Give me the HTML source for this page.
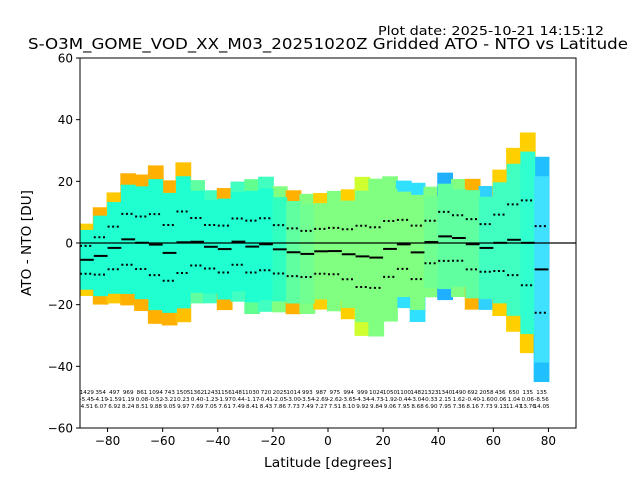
<!DOCTYPE html>
<html><head><meta charset="utf-8"><style>
body{margin:0;background:#fff}
svg{display:block;font-family:"DejaVu Sans","Liberation Sans",sans-serif}
</style></head><body>
<svg id="chart" width="640" height="480">
<text x="378" y="35" font-size="12" textLength="226" lengthAdjust="spacingAndGlyphs">Plot date: 2025-10-21 14:15:12</text>
<text x="28" y="49" font-size="15.5" textLength="600" lengthAdjust="spacingAndGlyphs">S-O3M_GOME_VOD_XX_M03_20251020Z Gridded ATO - NTO vs Latitude</text>
<text x="264" y="467" font-size="13" textLength="128" lengthAdjust="spacingAndGlyphs">Latitude [degrees]</text>
<text x="31" y="243" font-size="13" text-anchor="middle" textLength="106" lengthAdjust="spacingAndGlyphs" transform="rotate(-90 31 243)">ATO - NTO [DU]</text>
</svg>
<script>
const binStarts=[-90,-85,-80,-75,-70,-65,-60,-55,-50,-45,-40,-35,-30,-25,-20,-15,-10,-5,0,5,10,15,20,25,30,35,40,45,50,55,60,65,70,75];
const counts=[1429,354,497,969,861,1094,743,1505,1362,1243,1156,1481,1030,720,2025,1014,993,987,975,994,999,1024,1050,1100,1482,1323,1340,1490,692,2058,436,650,135,135];
const means=[-5.45,-4.19,-1.59,1.19,0.08,-0.52,-3.21,0.23,0.40,-1.23,-1.97,0.44,-1.17,-0.41,-2.05,-3.00,-3.54,-2.69,-2.62,-3.65,-4.34,-4.73,-1.92,-0.44,-3.04,0.33,2.15,1.62,-0.40,-1.60,0.06,1.04,0.06,-8.56];
const stds=[4.51,6.07,6.92,8.24,8.51,9.88,9.05,9.97,7.69,7.05,7.61,7.49,8.41,8.43,7.86,7.73,7.49,7.27,7.51,8.10,9.92,9.84,9.06,7.95,8.68,6.90,7.95,7.36,8.16,7.73,9.13,11.47,13.76,14.05];
const outerColors=["#ffd000","#ffb000","#ffc800","#ffb000","#ffb000","#ffb000","#ffb000","#ffc000","#60ffa0","#40ffc0","#ffb000","#40ffc0","#60ff90","#40ffc0","#80ff80","#ffb000","#80ff80","#ffd000","#80ff80","#ffd000","#d0ff30","#80ff80","#80ff80","#30e0ff","#30e0ff","#80ff80","#20b0ff","#80ff80","#ffb000","#30d0ff","#ffd000","#ffd000","#ffd000","#20c0ff"];
const innerColors=["#20ffd0","#20ffd0","#20ffd0","#20ffd0","#20ffd0","#20ffd0","#20ffd0","#20ffd0","#20ffd0","#20ffd0","#20ffd0","#20ffd0","#20ffd0","#20ffd0","#30ffc0","#60ffa0","#70ff90","#80ff80","#80ff80","#80ff80","#80ff80","#80ff80","#80ff80","#80ff80","#80ff80","#70ff90","#60ffa0","#60ffa0","#60ffa0","#40ffc0","#40ffc0","#40ffc0","#30ffd0","#40e0ff"];
const xTicks=[-80,-60,-40,-20,0,20,40,60,80];
const yTicks=[-60,-40,-20,0,20,40,60];

const NS="http://www.w3.org/2000/svg";
const svg=document.getElementById('chart');
const L=80,R=576,T=58,B=428;
const xs=v=>L+(v+90)/180*(R-L);
const ys=v=>T+(60-v)/120*(B-T);
function mk(tag,attrs,parent){const e=document.createElementNS(NS,tag);for(const k in attrs)e.setAttribute(k,attrs[k]);(parent||svg).appendChild(e);return e;}
const defs=mk('defs',{});
const cp=mk('clipPath',{id:'pc'},defs);
mk('rect',{x:L,y:T,width:R-L,height:B-T},cp);
const g=mk('g',{'clip-path':'url(#pc)'});


const bw=xs(5)-xs(0);
binStarts.forEach((b,i)=>{
  const x=xs(b),top=ys(means[i]+2.6*stds[i]),bot=ys(means[i]-2.6*stds[i]);
  const r=mk('rect',{x:x-1,y:top,width:bw+2,height:bot-top,fill:outerColors[i]},g);
  
  
});
binStarts.forEach((b,i)=>{
  const x=xs(b),top=ys(means[i]+2.15*stds[i]),bot=ys(means[i]-2.15*stds[i]);
  const r=mk('rect',{x:x-0.5,y:top,width:bw+1,height:bot-top,fill:innerColors[i]},g);
  
  
});
const zl=mk('line',{x1:L,x2:R,y1:ys(0),y2:ys(0),stroke:'#000','stroke-width':1.2});


binStarts.forEach((b,i)=>{
  const x1=xs(b),x2=xs(b+5);
  const m=mk('line',{x1:x1,x2:x2,y1:ys(means[i]),y2:ys(means[i]),stroke:'#000','stroke-width':2});
  
  
  [1,-1].forEach(s=>{
    const d=mk('line',{x1:x1,x2:x2,y1:ys(means[i]+s*stds[i]),y2:ys(means[i]+s*stds[i]),stroke:'#000','stroke-width':2,'stroke-dasharray':'2,2.6'});
    
    
  });
  const cx=(x1+x2)/2;
  [[counts[i],394],[means[i].toFixed(2),401],[stds[i].toFixed(2),408]].forEach(([t,y])=>{
    const tx=mk('text',{x:cx,y:y,'font-size':5.6,'text-anchor':'middle'});
    tx.textContent=t;
    
    
  });
});
const fr=mk('rect',{x:L,y:T,width:R-L,height:B-T,fill:'none',stroke:'#000','stroke-width':1});


xTicks.forEach(v=>{
  mk('line',{x1:xs(v),x2:xs(v),y1:B,y2:B+4,stroke:'#000'});
  const t=mk('text',{x:xs(v),y:B+17,'font-size':12,'text-anchor':'middle'});
  t.textContent=v<0?'\u2212'+(-v):v;
  
  
});
yTicks.forEach(v=>{
  mk('line',{x1:L-4,x2:L,y1:ys(v),y2:ys(v),stroke:'#000'});
  const t=mk('text',{x:L-7,y:ys(v)+4.5,'font-size':12,'text-anchor':'end'});
  t.textContent=v<0?'\u2212'+(-v):v;
  
  
});
</script>
</body></html>
